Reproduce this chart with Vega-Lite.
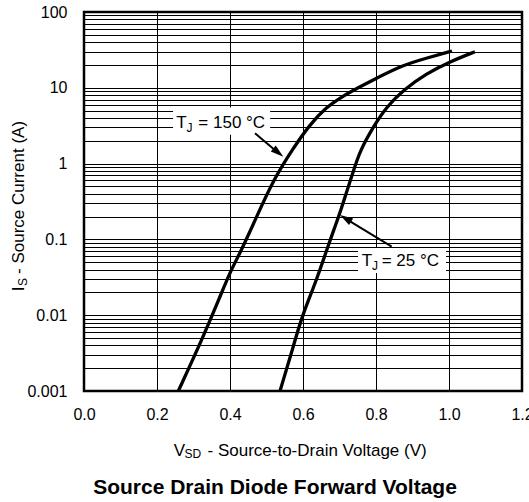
{
  "$schema": "https://vega.github.io/schema/vega-lite/v6.json",
  "width": 438,
  "height": 379,
  "autosize": {"type": "none"},
  "padding": {"left": 84, "top": 12, "right": 7, "bottom": 111},
  "background": "white",
  "config": {
    "font": "Liberation Sans",
    "view": {"stroke": "black", "strokeWidth": 2.5}
  },
  "title": {
    "text": "Source Drain Diode Forward Voltage",
    "orient": "bottom",
    "anchor": "middle",
    "frame": "group",
    "fontSize": 21,
    "fontWeight": "bold",
    "color": "black",
    "dx": -28,
    "offset": 17
  },
  "datasets": {
    "curves": [
      {"tj": "150", "vsd": 0.2584, "is": 0.001},
      {"tj": "150", "vsd": 0.3268, "is": 0.00521},
      {"tj": "150", "vsd": 0.3726, "is": 0.01754},
      {"tj": "150", "vsd": 0.4027, "is": 0.0395},
      {"tj": "150", "vsd": 0.4274, "is": 0.0656},
      {"tj": "150", "vsd": 0.4732, "is": 0.1993},
      {"tj": "150", "vsd": 0.5186, "is": 0.6076},
      {"tj": "150", "vsd": 0.5734, "is": 1.606},
      {"tj": "150", "vsd": 0.6192, "is": 3.3},
      {"tj": "150", "vsd": 0.6649, "is": 5.6},
      {"tj": "150", "vsd": 0.7014, "is": 7.3},
      {"tj": "150", "vsd": 0.7288, "is": 8.8},
      {"tj": "150", "vsd": 0.7918, "is": 12.67},
      {"tj": "150", "vsd": 0.874, "is": 20.0},
      {"tj": "150", "vsd": 0.9397, "is": 24.7},
      {"tj": "150", "vsd": 1.0082, "is": 30.6},
      {"tj": "25", "vsd": 0.537, "is": 0.001},
      {"tj": "25", "vsd": 0.5734, "is": 0.00384},
      {"tj": "25", "vsd": 0.5964, "is": 0.00955},
      {"tj": "25", "vsd": 0.6375, "is": 0.0291},
      {"tj": "25", "vsd": 0.674, "is": 0.0982},
      {"tj": "25", "vsd": 0.7014, "is": 0.221},
      {"tj": "25", "vsd": 0.7378, "is": 0.8},
      {"tj": "25", "vsd": 0.7562, "is": 1.48},
      {"tj": "25", "vsd": 0.7926, "is": 3.07},
      {"tj": "25", "vsd": 0.8293, "is": 5.63},
      {"tj": "25", "vsd": 0.8748, "is": 9.35},
      {"tj": "25", "vsd": 0.9389, "is": 15.5},
      {"tj": "25", "vsd": 1.0027, "is": 22.1},
      {"tj": "25", "vsd": 1.0712, "is": 29.9}
    ],
    "boxes": [
      {"tj": "150", "x1": 0.244, "x2": 0.51, "y1": 5.5, "y2": 2.4},
      {"tj": "25", "x1": 0.7507, "x2": 0.9918, "y1": 0.077, "y2": 0.036}
    ],
    "shafts": [
      {"tj": "150", "x1": 0.4685, "y1": 2.51, "x2": 0.526, "y2": 1.466},
      {"tj": "25", "x1": 0.843, "y1": 0.0801, "x2": 0.7233, "y2": 0.18}
    ],
    "head150": [{"tj": "150", "x": 0.546, "y": 1.233}],
    "head25": [{"tj": "25", "x": 0.7014, "y": 0.21}],
    "labels": [
      {"tj": "150", "x": 0.253, "y": 2.92, "t": "T"},
      {"tj": "150", "x": 0.3132, "y": 2.92, "t": "= 150 °C"},
      {"tj": "25", "x": 0.7608, "y": 0.0446, "t": "T"},
      {"tj": "25", "x": 0.8155, "y": 0.0446, "t": "= 25 °C"}
    ],
    "subs": [
      {"tj": "150", "x": 0.2805, "y": 2.65, "t": "J"},
      {"tj": "25", "x": 0.789, "y": 0.0394, "t": "J"}
    ]
  },
  "resolve": {"axis": {"x": "independent", "y": "independent"}},
  "layer": [
    {
      "data": {"name": "curves"},
      "mark": {"type": "line", "color": "black", "strokeWidth": 3.3, "interpolate": "basis", "strokeCap": "butt", "clip": true},
      "encoding": {
        "x": {
          "field": "vsd", "type": "quantitative",
          "scale": {"domain": [0, 1.2], "nice": false, "zero": false},
          "axis": {
            "values": [0, 0.2, 0.4, 0.6, 0.8, 1, 1.2],
            "format": ".1f",
            "grid": true, "gridColor": "black", "gridOpacity": 1, "gridWidth": 1,
            "domain": false, "ticks": false,
            "labelFontSize": 16, "labelColor": "black", "labelPadding": 15,
            "labelFlush": false, "labelOverlap": false,
            "title": "V", "titleFontSize": 17, "titleFontWeight": "normal", "titleColor": "black",
            "titleX": 89.3, "titleY": 64, "titleAlign": "left", "titleBaseline": "alphabetic", "titleAngle": 0
          }
        },
        "y": {
          "field": "is", "type": "quantitative",
          "scale": {"type": "log", "domain": [0.001, 100], "nice": false},
          "axis": {
            "values": [0.001, 0.002, 0.003, 0.004, 0.005, 0.006, 0.007, 0.008, 0.009, 0.01, 0.02, 0.03, 0.04, 0.05, 0.06, 0.07, 0.08, 0.09, 0.1, 0.2, 0.3, 0.4, 0.5, 0.6, 0.7, 0.8, 0.9, 1, 2, 3, 4, 5, 6, 7, 8, 9, 10, 20, 30, 40, 50, 60, 70, 80, 90, 100],
            "format": "~g",
            "labelExpr": "indexof([0.001, 0.01, 0.1, 1, 10, 100], datum.value) >= 0 ? datum.label : ''",
            "grid": true, "gridColor": "black", "gridOpacity": 1, "gridWidth": 1,
            "domain": false, "ticks": false,
            "labelFontSize": 16, "labelColor": "black", "labelPadding": 17,
            "labelFlush": false, "labelOverlap": false, "labelBaseline": "middle",
            "title": "I", "titleFontSize": 17, "titleFontWeight": "normal", "titleColor": "black",
            "titleX": -60.7, "titleY": 278.7, "titleAlign": "left", "titleBaseline": "alphabetic", "titleAngle": 270
          }
        },
        "detail": {"field": "tj", "type": "nominal"}
      }
    },
    {
      "data": {"name": "boxes"},
      "mark": {"type": "rect", "color": "white", "strokeWidth": 0},
      "encoding": {
        "x": {
          "field": "x1", "type": "quantitative",
          "scale": {"domain": [0, 1.2], "nice": false, "zero": false},
          "axis": {
            "orient": "top", "labels": false, "ticks": false, "domain": false, "grid": false,
            "title": "SD", "titleFontSize": 12, "titleFontWeight": "normal", "titleColor": "black",
            "titleX": 100, "titleY": 445.5, "titleAlign": "left", "titleBaseline": "alphabetic", "titleAngle": 0
          }
        },
        "x2": {"field": "x2"},
        "y": {
          "field": "y1", "type": "quantitative",
          "scale": {"type": "log", "domain": [0.001, 100], "nice": false},
          "axis": {
            "orient": "right", "labels": false, "ticks": false, "domain": false, "grid": false,
            "title": "S", "titleFontSize": 12, "titleFontWeight": "normal", "titleColor": "black",
            "titleX": -495.5, "titleY": 273.5, "titleAlign": "left", "titleBaseline": "alphabetic", "titleAngle": 270
          }
        },
        "y2": {"field": "y2"}
      }
    },
    {
      "data": {"name": "shafts"},
      "mark": {"type": "rule", "color": "black", "strokeWidth": 2, "strokeCap": "butt"},
      "encoding": {
        "x": {
          "field": "x1", "type": "quantitative",
          "scale": {"domain": [0, 1.2], "nice": false, "zero": false},
          "axis": {
            "orient": "top", "labels": false, "ticks": false, "domain": false, "grid": false,
            "title": "- Source-to-Drain Voltage (V)", "titleFontSize": 17, "titleFontWeight": "normal", "titleColor": "black",
            "titleX": 123, "titleY": 443, "titleAlign": "left", "titleBaseline": "alphabetic", "titleAngle": 0
          }
        },
        "x2": {"field": "x2"},
        "y": {
          "field": "y1", "type": "quantitative",
          "scale": {"type": "log", "domain": [0.001, 100], "nice": false},
          "axis": {
            "orient": "right", "labels": false, "ticks": false, "domain": false, "grid": false,
            "title": "- Source Current (A)", "titleFontSize": 17, "titleFontWeight": "normal", "titleColor": "black",
            "titleX": -498.7, "titleY": 261.5, "titleAlign": "left", "titleBaseline": "alphabetic", "titleAngle": 270
          }
        },
        "y2": {"field": "y2"}
      }
    },
    {
      "data": {"name": "head150"},
      "mark": {"type": "point", "shape": "M0,0 L0.6,2 L-0.6,2 Z", "filled": true, "color": "black", "opacity": 1, "size": 169, "angle": 129.6, "strokeWidth": 0},
      "encoding": {
        "x": {"field": "x", "type": "quantitative", "scale": {"domain": [0, 1.2], "nice": false, "zero": false}, "axis": null},
        "y": {"field": "y", "type": "quantitative", "scale": {"type": "log", "domain": [0.001, 100], "nice": false}, "axis": null}
      }
    },
    {
      "data": {"name": "head25"},
      "mark": {"type": "point", "shape": "M0,0 L0.6,2 L-0.6,2 Z", "filled": true, "color": "black", "opacity": 1, "size": 169, "angle": 301.5, "strokeWidth": 0},
      "encoding": {
        "x": {"field": "x", "type": "quantitative", "scale": {"domain": [0, 1.2], "nice": false, "zero": false}, "axis": null},
        "y": {"field": "y", "type": "quantitative", "scale": {"type": "log", "domain": [0.001, 100], "nice": false}, "axis": null}
      }
    },
    {
      "data": {"name": "labels"},
      "mark": {"type": "text", "color": "black", "fontSize": 17, "align": "left", "baseline": "alphabetic"},
      "encoding": {
        "x": {"field": "x", "type": "quantitative", "scale": {"domain": [0, 1.2], "nice": false, "zero": false}, "axis": null},
        "y": {"field": "y", "type": "quantitative", "scale": {"type": "log", "domain": [0.001, 100], "nice": false}, "axis": null},
        "text": {"field": "t", "type": "nominal"}
      }
    },
    {
      "data": {"name": "subs"},
      "mark": {"type": "text", "color": "black", "fontSize": 12, "align": "left", "baseline": "alphabetic"},
      "encoding": {
        "x": {"field": "x", "type": "quantitative", "scale": {"domain": [0, 1.2], "nice": false, "zero": false}, "axis": null},
        "y": {"field": "y", "type": "quantitative", "scale": {"type": "log", "domain": [0.001, 100], "nice": false}, "axis": null},
        "text": {"field": "t", "type": "nominal"}
      }
    }
  ]
}
